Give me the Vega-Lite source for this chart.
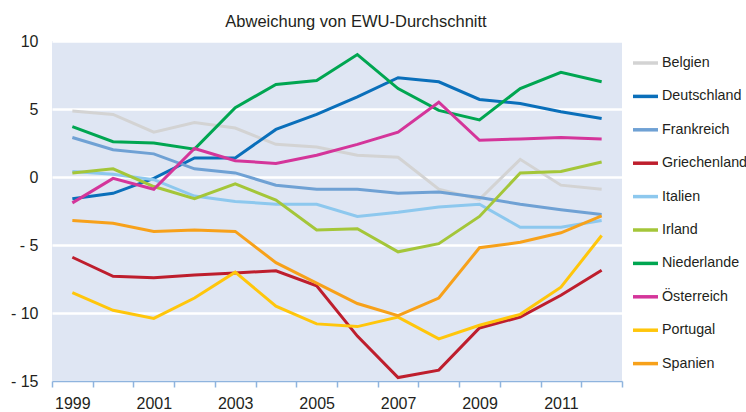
{
  "$schema": "https://vega.github.io/schema/vega-lite/v6.json",
  "width": 570,
  "height": 340,
  "autosize": {"type": "none"},
  "padding": {"left": 52, "top": 41, "right": 124, "bottom": 31},
  "background": "white",
  "config": {
    "view": {"fill": "#dfe6f3", "stroke": null},
    "font": "Liberation Sans"
  },
  "title": {
    "text": "Abweichung von EWU-Durchschnitt",
    "fontSize": 16.5,
    "fontWeight": "normal",
    "font": "Liberation Sans",
    "color": "#231f20",
    "anchor": "middle",
    "dx": 19,
    "offset": 3
  },
  "data": {
    "values": [
      {"year": 1999, "country": "Belgien", "value": 4.85},
      {"year": 2000, "country": "Belgien", "value": 4.6},
      {"year": 2001, "country": "Belgien", "value": 3.3},
      {"year": 2002, "country": "Belgien", "value": 4.0},
      {"year": 2003, "country": "Belgien", "value": 3.6},
      {"year": 2004, "country": "Belgien", "value": 2.4},
      {"year": 2005, "country": "Belgien", "value": 2.2},
      {"year": 2006, "country": "Belgien", "value": 1.6},
      {"year": 2007, "country": "Belgien", "value": 1.45},
      {"year": 2008, "country": "Belgien", "value": -0.9},
      {"year": 2009, "country": "Belgien", "value": -1.65},
      {"year": 2010, "country": "Belgien", "value": 1.3},
      {"year": 2011, "country": "Belgien", "value": -0.6},
      {"year": 2012, "country": "Belgien", "value": -0.9},
      {"year": 1999, "country": "Deutschland", "value": -1.6},
      {"year": 2000, "country": "Deutschland", "value": -1.2},
      {"year": 2001, "country": "Deutschland", "value": -0.1},
      {"year": 2002, "country": "Deutschland", "value": 1.4},
      {"year": 2003, "country": "Deutschland", "value": 1.4},
      {"year": 2004, "country": "Deutschland", "value": 3.5},
      {"year": 2005, "country": "Deutschland", "value": 4.6},
      {"year": 2006, "country": "Deutschland", "value": 5.9},
      {"year": 2007, "country": "Deutschland", "value": 7.3},
      {"year": 2008, "country": "Deutschland", "value": 7.0},
      {"year": 2009, "country": "Deutschland", "value": 5.7},
      {"year": 2010, "country": "Deutschland", "value": 5.4},
      {"year": 2011, "country": "Deutschland", "value": 4.8},
      {"year": 2012, "country": "Deutschland", "value": 4.3},
      {"year": 1999, "country": "Frankreich", "value": 2.9},
      {"year": 2000, "country": "Frankreich", "value": 2.0},
      {"year": 2001, "country": "Frankreich", "value": 1.7},
      {"year": 2002, "country": "Frankreich", "value": 0.6},
      {"year": 2003, "country": "Frankreich", "value": 0.3},
      {"year": 2004, "country": "Frankreich", "value": -0.6},
      {"year": 2005, "country": "Frankreich", "value": -0.9},
      {"year": 2006, "country": "Frankreich", "value": -0.9},
      {"year": 2007, "country": "Frankreich", "value": -1.2},
      {"year": 2008, "country": "Frankreich", "value": -1.1},
      {"year": 2009, "country": "Frankreich", "value": -1.5},
      {"year": 2010, "country": "Frankreich", "value": -2.0},
      {"year": 2011, "country": "Frankreich", "value": -2.4},
      {"year": 2012, "country": "Frankreich", "value": -2.75},
      {"year": 1999, "country": "Griechenland", "value": -5.9},
      {"year": 2000, "country": "Griechenland", "value": -7.3},
      {"year": 2001, "country": "Griechenland", "value": -7.4},
      {"year": 2002, "country": "Griechenland", "value": -7.2},
      {"year": 2003, "country": "Griechenland", "value": -7.05},
      {"year": 2004, "country": "Griechenland", "value": -6.9},
      {"year": 2005, "country": "Griechenland", "value": -8.0},
      {"year": 2006, "country": "Griechenland", "value": -11.7},
      {"year": 2007, "country": "Griechenland", "value": -14.75},
      {"year": 2008, "country": "Griechenland", "value": -14.2},
      {"year": 2009, "country": "Griechenland", "value": -11.1},
      {"year": 2010, "country": "Griechenland", "value": -10.3},
      {"year": 2011, "country": "Griechenland", "value": -8.7},
      {"year": 2012, "country": "Griechenland", "value": -6.85},
      {"year": 1999, "country": "Italien", "value": 0.4},
      {"year": 2000, "country": "Italien", "value": 0.2},
      {"year": 2001, "country": "Italien", "value": -0.2},
      {"year": 2002, "country": "Italien", "value": -1.4},
      {"year": 2003, "country": "Italien", "value": -1.8},
      {"year": 2004, "country": "Italien", "value": -2.0},
      {"year": 2005, "country": "Italien", "value": -2.0},
      {"year": 2006, "country": "Italien", "value": -2.9},
      {"year": 2007, "country": "Italien", "value": -2.6},
      {"year": 2008, "country": "Italien", "value": -2.2},
      {"year": 2009, "country": "Italien", "value": -2.0},
      {"year": 2010, "country": "Italien", "value": -3.7},
      {"year": 2011, "country": "Italien", "value": -3.7},
      {"year": 2012, "country": "Italien", "value": -3.2},
      {"year": 1999, "country": "Irland", "value": 0.3},
      {"year": 2000, "country": "Irland", "value": 0.6},
      {"year": 2001, "country": "Irland", "value": -0.7},
      {"year": 2002, "country": "Irland", "value": -1.6},
      {"year": 2003, "country": "Irland", "value": -0.5},
      {"year": 2004, "country": "Irland", "value": -1.7},
      {"year": 2005, "country": "Irland", "value": -3.9},
      {"year": 2006, "country": "Irland", "value": -3.8},
      {"year": 2007, "country": "Irland", "value": -5.5},
      {"year": 2008, "country": "Irland", "value": -4.9},
      {"year": 2009, "country": "Irland", "value": -2.9},
      {"year": 2010, "country": "Irland", "value": 0.3},
      {"year": 2011, "country": "Irland", "value": 0.4},
      {"year": 2012, "country": "Irland", "value": 1.1},
      {"year": 1999, "country": "Niederlande", "value": 3.7},
      {"year": 2000, "country": "Niederlande", "value": 2.6},
      {"year": 2001, "country": "Niederlande", "value": 2.5},
      {"year": 2002, "country": "Niederlande", "value": 2.05},
      {"year": 2003, "country": "Niederlande", "value": 5.1},
      {"year": 2004, "country": "Niederlande", "value": 6.8},
      {"year": 2005, "country": "Niederlande", "value": 7.1},
      {"year": 2006, "country": "Niederlande", "value": 9.0},
      {"year": 2007, "country": "Niederlande", "value": 6.5},
      {"year": 2008, "country": "Niederlande", "value": 4.9},
      {"year": 2009, "country": "Niederlande", "value": 4.2},
      {"year": 2010, "country": "Niederlande", "value": 6.5},
      {"year": 2011, "country": "Niederlande", "value": 7.7},
      {"year": 2012, "country": "Niederlande", "value": 7.0},
      {"year": 1999, "country": "Österreich", "value": -1.9},
      {"year": 2000, "country": "Österreich", "value": -0.1},
      {"year": 2001, "country": "Österreich", "value": -0.9},
      {"year": 2002, "country": "Österreich", "value": 2.1},
      {"year": 2003, "country": "Österreich", "value": 1.2},
      {"year": 2004, "country": "Österreich", "value": 1.0},
      {"year": 2005, "country": "Österreich", "value": 1.6},
      {"year": 2006, "country": "Österreich", "value": 2.4},
      {"year": 2007, "country": "Österreich", "value": 3.3},
      {"year": 2008, "country": "Österreich", "value": 5.5},
      {"year": 2009, "country": "Österreich", "value": 2.7},
      {"year": 2010, "country": "Österreich", "value": 2.8},
      {"year": 2011, "country": "Österreich", "value": 2.9},
      {"year": 2012, "country": "Österreich", "value": 2.8},
      {"year": 1999, "country": "Portugal", "value": -8.5},
      {"year": 2000, "country": "Portugal", "value": -9.8},
      {"year": 2001, "country": "Portugal", "value": -10.4},
      {"year": 2002, "country": "Portugal", "value": -8.9},
      {"year": 2003, "country": "Portugal", "value": -7.0},
      {"year": 2004, "country": "Portugal", "value": -9.5},
      {"year": 2005, "country": "Portugal", "value": -10.8},
      {"year": 2006, "country": "Portugal", "value": -11.0},
      {"year": 2007, "country": "Portugal", "value": -10.3},
      {"year": 2008, "country": "Portugal", "value": -11.9},
      {"year": 2009, "country": "Portugal", "value": -10.9},
      {"year": 2010, "country": "Portugal", "value": -10.1},
      {"year": 2011, "country": "Portugal", "value": -8.1},
      {"year": 2012, "country": "Portugal", "value": -4.3},
      {"year": 1999, "country": "Spanien", "value": -3.2},
      {"year": 2000, "country": "Spanien", "value": -3.4},
      {"year": 2001, "country": "Spanien", "value": -4.0},
      {"year": 2002, "country": "Spanien", "value": -3.9},
      {"year": 2003, "country": "Spanien", "value": -4.0},
      {"year": 2004, "country": "Spanien", "value": -6.3},
      {"year": 2005, "country": "Spanien", "value": -7.8},
      {"year": 2006, "country": "Spanien", "value": -9.3},
      {"year": 2007, "country": "Spanien", "value": -10.2},
      {"year": 2008, "country": "Spanien", "value": -8.9},
      {"year": 2009, "country": "Spanien", "value": -5.2},
      {"year": 2010, "country": "Spanien", "value": -4.8},
      {"year": 2011, "country": "Spanien", "value": -4.1},
      {"year": 2012, "country": "Spanien", "value": -2.85}
    ]
  },
  "mark": {"type": "line", "strokeWidth": 3, "strokeJoin": "miter"},
  "encoding": {
    "x": {
      "field": "year",
      "type": "ordinal",
      "scale": {"type": "band", "paddingInner": 0, "paddingOuter": 0},
      "axis": {
        "title": null,
        "labelAngle": 0,
        "labelExpr": "datum.value % 2 == 1 ? datum.label : ''",
        "labelFontSize": 16,
        "labelColor": "#231f20",
        "labelPadding": 8,
        "tickBand": "extent",
        "tickColor": "#8fb4de",
        "tickSize": 6,
        "domainColor": "#8fb4de",
        "domainWidth": 1.5,
        "tickWidth": 1.5,
        "grid": false
      }
    },
    "y": {
      "field": "value",
      "type": "quantitative",
      "scale": {"domain": [-15, 10], "nice": false, "zero": false},
      "axis": {
        "title": null,
        "values": [-15, -10, -5, 0, 5, 10],
        "labelExpr": "datum.value < 0 ? '- ' + abs(datum.value) : datum.label",
        "labelFontSize": 16,
        "labelColor": "#231f20",
        "labelPadding": 14,
        "ticks": false,
        "tickSize": 0,
        "domain": false,
        "grid": true,
        "gridColor": "white",
        "gridWidth": 2.5,
        "gridOpacity": 1
      }
    },
    "color": {
      "field": "country",
      "type": "nominal",
      "scale": {
        "domain": ["Belgien", "Deutschland", "Frankreich", "Griechenland", "Italien", "Irland", "Niederlande", "Österreich", "Portugal", "Spanien"],
        "range": ["#d3d3d3", "#0a6fba", "#6fa1d4", "#be1e2d", "#8dc8ee", "#a4c639", "#00a651", "#d4359a", "#ffc60b", "#f7a11a"]
      },
      "legend": {
        "title": null,
        "orient": "none",
        "legendX": 579,
        "legendY": 7.5,
        "padding": 0,
        "symbolType": "stroke",
        "symbolSize": 625,
        "symbolStrokeWidth": 3.5,
        "labelFontSize": 14.3,
        "labelColor": "#231f20",
        "labelOffset": 2,
        "rowPadding": 11.4,
        "labelLimit": 200
      }
    }
  }
}
